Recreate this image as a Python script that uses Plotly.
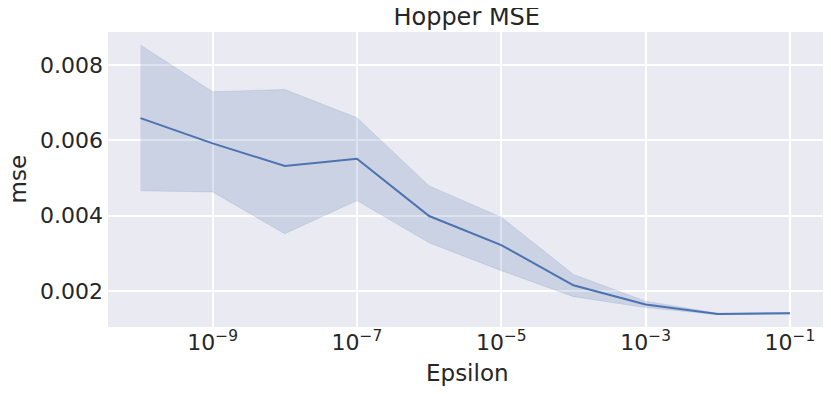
import plotly.graph_objects as go

# data
epsilon = [1e-10, 1e-9, 1e-8, 1e-7, 1e-6, 1e-5, 1e-4, 1e-3, 1e-2, 1e-1]
mse_mean = [0.00659, 0.00592, 0.00532, 0.00551, 0.00399, 0.00322, 0.00215, 0.00164, 0.00139, 0.00141]
mse_upper = [0.00853, 0.00729, 0.00735, 0.00660, 0.00479, 0.00396, 0.00244, 0.00173, 0.00141, 0.00143]
mse_lower = [0.00466, 0.00463, 0.00352, 0.00440, 0.00328, 0.00254, 0.00185, 0.00156, 0.00137, 0.00139]

x_ticks = [1e-9, 1e-7, 1e-5, 1e-3, 1e-1]
x_ticktext = ["10<sup>\u22129</sup>", "10<sup>\u22127</sup>", "10<sup>\u22125</sup>",
              "10<sup>\u22123</sup>", "10<sup>\u22121</sup>"]
y_ticks = [0.002, 0.004, 0.006, 0.008]

LINE_COLOR = "#4C72B0"
BAND_COLOR = "rgba(76,114,176,0.2)"
FONT = "DejaVu Sans, sans-serif"
TEXT_COLOR = "#262626"

fig = go.Figure()

# confidence band
fig.add_trace(go.Scatter(x=epsilon, y=mse_upper, mode="lines",
                         line=dict(width=0.6, color="rgba(76,114,176,0.25)"),
                         showlegend=False, hoverinfo="skip"))
fig.add_trace(go.Scatter(x=epsilon, y=mse_lower, mode="lines",
                         line=dict(width=0.6, color="rgba(76,114,176,0.25)"),
                         fill="tonexty", fillcolor=BAND_COLOR,
                         showlegend=False, hoverinfo="skip"))
# mean line
fig.add_trace(go.Scatter(x=epsilon, y=mse_mean, mode="lines",
                         line=dict(width=2, color=LINE_COLOR),
                         showlegend=False))

# page body adds an 8px offset, margins account for it
fig.update_layout(
    width=831, height=394,
    margin=dict(l=100, r=13, t=24, b=75),
    paper_bgcolor="white",
    plot_bgcolor="#EAEAF2",
    font=dict(family=FONT, size=22, color=TEXT_COLOR),
    title=dict(text="Hopper MSE", x=0.552, xanchor="center",
               y=0.977, yanchor="middle", font=dict(size=24, color=TEXT_COLOR)),
)

fig.update_xaxes(
    type="log", range=[-10.45, -0.5],
    tickvals=x_ticks, ticktext=x_ticktext,
    showgrid=True, gridcolor="white", gridwidth=1.5,
    zeroline=False, showline=False, ticks="",
    tickfont=dict(size=22), automargin=False,
)
fig.update_yaxes(
    range=[0.001044, 0.008876],
    tickvals=y_ticks, tickformat=".3f",
    showgrid=True, gridcolor="white", gridwidth=1.5,
    zeroline=False, showline=False, ticks="",
    tickfont=dict(size=22), automargin=False, ticklabelstandoff=4,
)

# axis titles
fig.add_annotation(text="Epsilon", xref="paper", yref="paper", x=0.5, y=0,
                   xanchor="center", yanchor="middle", yshift=-46,
                   showarrow=False, font=dict(size=23, color=TEXT_COLOR))
fig.add_annotation(text="mse", xref="paper", yref="paper", x=0, y=0.5,
                   xanchor="center", yanchor="middle", xshift=-91, textangle=-90,
                   showarrow=False, font=dict(size=23, color=TEXT_COLOR))

fig.write_html("out.html")
